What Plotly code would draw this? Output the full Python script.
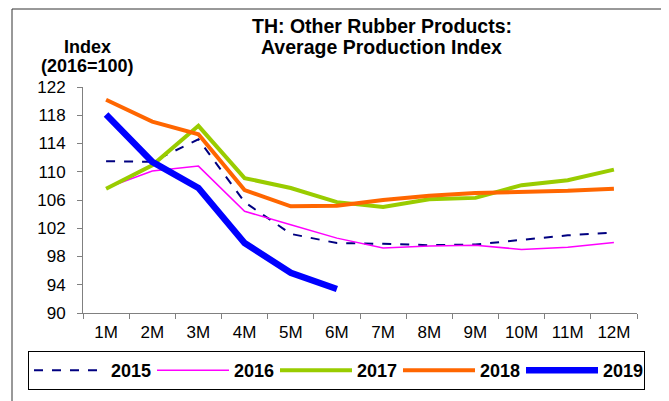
import plotly.graph_objects as go

months = ["1M", "2M", "3M", "4M", "5M", "6M", "7M", "8M", "9M", "10M", "11M", "12M"]
y2015 = [111.5, 111.4, 114.6, 105.7, 101.2, 99.9, 99.8, 99.6, 99.7, 100.3, 101.0, 101.4]
y2016 = [107.7, 110.1, 110.8, 104.4, 102.5, 100.6, 99.2, 99.5, 99.6, 99.0, 99.3, 100.0]
y2017 = [107.6, 110.9, 116.5, 109.1, 107.7, 105.7, 105.0, 106.1, 106.3, 108.1, 108.8, 110.3]
y2018 = [120.2, 117.1, 115.3, 107.4, 105.1, 105.2, 106.0, 106.6, 107.0, 107.1, 107.3, 107.6]
y2019 = [118.1, 111.4, 107.7, 99.9, 95.7, 93.4]
yticks = [90, 94, 98, 102, 106, 110, 114, 118, 122]

# The page body adds an 8px offset; target screen coordinates are converted below.
OFF = 8
W, H = 669, 401
PL, PR, PT, PB = 83, 637, 87, 313  # plot area in screen pixels
L, R, T, B = PL - OFF, W - (PR - OFF), PT - OFF, H - (PB - OFF)
pw, ph = W - L - R, H - T - B
FONT = "Liberation Sans, Arial, sans-serif"

def px(x):
    return (x - OFF - L) / pw

def py(y):
    return (H - B - (y - OFF)) / ph

fig = go.Figure()
series = [
    ("2015", y2015, "#000080", 2, "dash"),
    ("2016", y2016, "#FF00FF", 1.5, "solid"),
    ("2017", y2017, "#99CC00", 4, "solid"),
    ("2018", y2018, "#FF6600", 4, "solid"),
    ("2019", y2019, "#0000FF", 6.5, "solid"),
]
for name, vals, col, w, dash in series:
    fig.add_trace(go.Scatter(x=months[:len(vals)], y=vals, name=name, mode="lines",
                             line=dict(color=col, width=w, dash=dash)))

fig.update_layout(
    width=W, height=H,
    margin=dict(l=L, r=R, t=T, b=B),
    paper_bgcolor="white", plot_bgcolor="white",
    font=dict(family=FONT, size=17, color="black"),
    showlegend=True,
    legend=dict(orientation="h", xref="paper", yref="paper",
                x=px(28), y=py(351), xanchor="left", yanchor="top",
                bordercolor="black", borderwidth=1,
                font=dict(size=18, family=FONT, color="black", weight="bold"),
                entrywidth=36, entrywidthmode="pixels", itemwidth=72,
                tracegroupgap=0),
    xaxis=dict(range=[-0.5, 11.5], showline=True, linecolor="#808080", linewidth=1,
               ticks="outside", tickson="boundaries", ticklen=5, tickcolor="#808080",
               automargin=False, showgrid=False, zeroline=False, tickfont=dict(size=17),
               ticklabelstandoff=4),
    yaxis=dict(range=[90, 122], tickvals=yticks, showline=True, linecolor="#808080",
               linewidth=1, ticks="outside", ticklen=5, tickcolor="#808080", automargin=False,
               showgrid=False, zeroline=False, tickfont=dict(size=17),
               ticklabelstandoff=8),
)

fig.add_annotation(text="<b>TH: Other Rubber Products:</b>",
                   xref="paper", yref="paper", x=px(382), y=py(26), xanchor="center",
                   yanchor="middle", showarrow=False, font=dict(size=19.5))
fig.add_annotation(text="<b>Average Production Index</b>",
                   xref="paper", yref="paper", x=px(381), y=py(47), xanchor="center",
                   yanchor="middle", showarrow=False, font=dict(size=19.5))
fig.add_annotation(text="<b>Index</b>",
                   xref="paper", yref="paper", x=px(87), y=py(47), xanchor="center",
                   yanchor="middle", showarrow=False, font=dict(size=18))
fig.add_annotation(text="<b>(2016=100)</b>",
                   xref="paper", yref="paper", x=px(87), y=py(66), xanchor="center",
                   yanchor="middle", showarrow=False, font=dict(size=18))
fig.add_shape(type="rect", xref="paper", yref="paper",
              x0=px(12), x1=px(663), y0=py(9), y1=py(430),
              line=dict(color="#333333", width=1), fillcolor="rgba(0,0,0,0)", layer="below")

fig.write_html("out.html")
